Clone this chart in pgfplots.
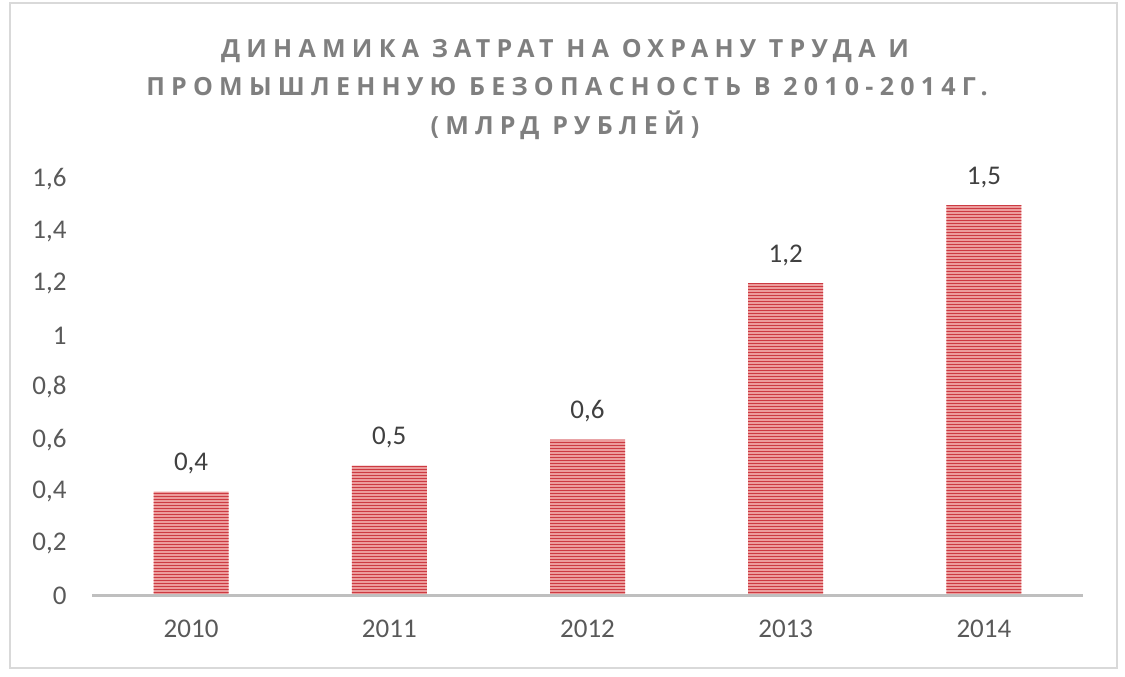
\documentclass[border=0pt]{standalone}
\usepackage{pgfplots}
\pgfplotsset{compat=1.18}
\usepackage{fontspec}
\setmainfont{Carlito}
\newfontfamily\titlefont[LetterSpace=25]{Open Sans Bold}
\usetikzlibrary{patterns}
\definecolor{tickgray}{HTML}{595959}
\definecolor{labgray}{HTML}{404040}
\definecolor{titlegray}{HTML}{7F7F7F}
\definecolor{axgray}{HTML}{BFBFBF}
\definecolor{framegray}{HTML}{D9D9D9}
\definecolor{barlight}{HTML}{EC9C9C}
\definecolor{barline}{HTML}{CC3A42}
\begin{document}
\begin{tikzpicture}[x=1pt,y=1pt]
\path[use as bounding box] (0,0) rectangle (1125,677);
\draw[framegray, line width=1.5pt] (10,9) rectangle (1117,674);
\node[anchor=base, titlegray, font=\titlefont\fontsize{25}{30}\selectfont] at (565,619) {ДИНАМИКА ЗАТРАТ НА ОХРАНУ ТРУДА И};
\node[anchor=base, titlegray, font=\titlefont\fontsize{25}{30}\selectfont] at (567,581) {ПРОМЫШЛЕННУЮ БЕЗОПАСНОСТЬ В 2010-2014Г.};
\node[anchor=base, titlegray, font=\titlefont\fontsize{25}{30}\selectfont] at (565,542) {(МЛРД РУБЛЕЙ)};
\begin{axis}[
  at={(92pt,81pt)}, anchor=south west,
  scale only axis, width=991pt, height=417pt,
  xmin=-0.5, xmax=4.5, ymin=0, ymax=1.6,
  axis line style={draw=none},
  xtick={0,1,2,3,4},
  xticklabels={2010,2011,2012,2013,2014},
  ytick={0,0.2,0.4,0.6,0.8,1,1.2,1.4,1.6},
  major tick length=0pt,
  /pgf/number format/use comma,
  /pgf/number format/assume math mode=true,
  ticklabel style={font=\fontsize{27}{30}\selectfont, text=tickgray},
  yticklabel style={anchor=east, xshift=-22pt},
  xticklabel style={anchor=north, yshift=-20pt},
  clip=false,
  nodes near coords,
  every node near coord/.append style={font=\fontsize{27}{30}\selectfont, text=labgray, anchor=south, yshift=14pt, /pgf/number format/use comma, /pgf/number format/assume math mode=true},
]
\addplot[ybar, bar width=75pt, draw=none, fill=barlight,
  postaction={pattern=horizontal lines, pattern color=barline}]
  coordinates {(0,0.4) (1,0.5) (2,0.6) (3,1.2) (4,1.5)};
\draw[axgray, line width=3pt] (axis cs:-0.5,0) -- (axis cs:4.5,0);
\end{axis}
\end{tikzpicture}
\end{document}
